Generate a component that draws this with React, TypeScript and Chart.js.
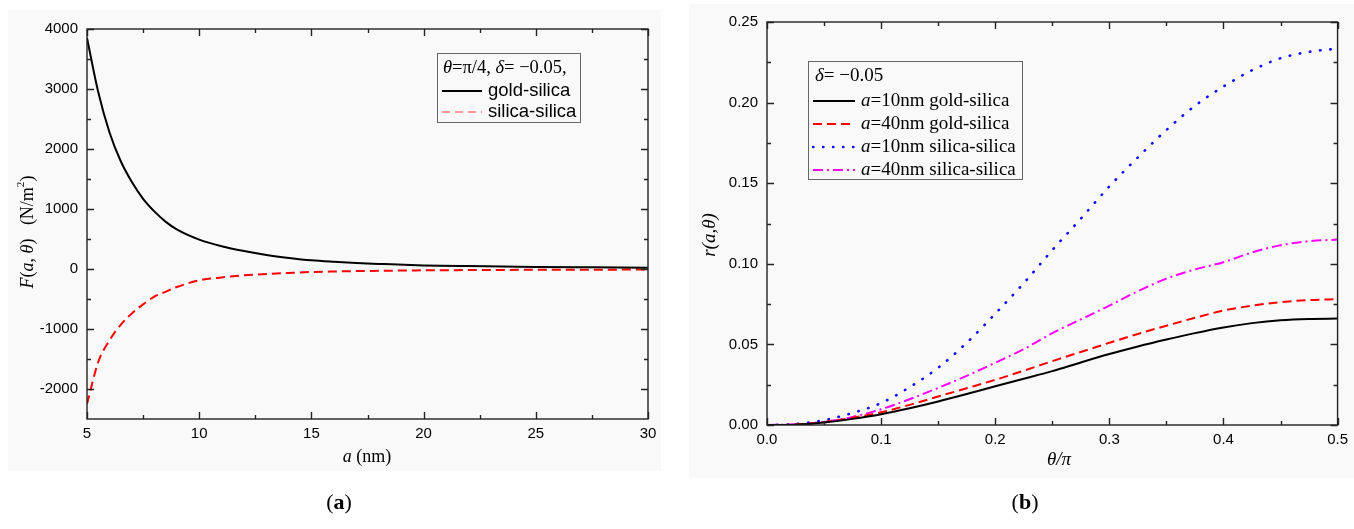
import React, { useEffect, useRef } from 'react';
import { Chart, registerables } from 'chart.js';

Chart.register(...registerables);

// ---------- Data: panel (a) ----------
const aNm = [5, 5.5, 6, 6.5, 7, 7.5, 8, 8.5, 9, 10, 11, 12, 13, 14, 15, 16, 17, 18, 20, 22, 25, 27.5, 30];
const goldSilicaF = [3850, 2950, 2280, 1800, 1450, 1170, 960, 790, 660, 490, 380, 300, 235, 185, 145, 120, 100, 85, 60, 48, 35, 28, 22];
const silicaSilicaF = [-2250, -1550, -1190, -930, -740, -590, -460, -380, -300, -190, -140, -105, -82, -65, -50, -42, -35, -30, -22, -18, -13, -11, -10];
const leftXTicks = [5, 10, 15, 20, 25, 30];
const leftXMinor = [7.5, 12.5, 17.5, 22.5, 27.5];
const leftYTicks = [-2000, -1000, 0, 1000, 2000, 3000, 4000];
const leftYMinor = [-1500, -500, 500, 1500, 2500, 3500];

// ---------- Data: panel (b) ----------
const thetaOverPi = [0, 0.025, 0.05, 0.075, 0.1, 0.125, 0.15, 0.175, 0.2, 0.225, 0.25, 0.275, 0.3, 0.325, 0.35, 0.375, 0.4, 0.425, 0.45, 0.475, 0.5];
const r10Gold = [0, 0.0002, 0.0015, 0.0038, 0.0067, 0.0104, 0.0146, 0.0192, 0.024, 0.0287, 0.0334, 0.0388, 0.044, 0.0487, 0.053, 0.057, 0.0605, 0.0632, 0.065, 0.0658, 0.066];
const r40Gold = [0, 0.0003, 0.0018, 0.0045, 0.0079, 0.0125, 0.0177, 0.0228, 0.028, 0.0337, 0.0396, 0.0453, 0.051, 0.0565, 0.0616, 0.0665, 0.071, 0.074, 0.0762, 0.0775, 0.078];
const r10Silica = [0, 0.0006, 0.003, 0.0075, 0.0136, 0.0235, 0.0355, 0.051, 0.069, 0.088, 0.1085, 0.128, 0.148, 0.166, 0.183, 0.198, 0.21, 0.22, 0.2275, 0.2315, 0.2335];
const r40Silica = [0, 0.0004, 0.002, 0.005, 0.0098, 0.016, 0.023, 0.0305, 0.0386, 0.047, 0.057, 0.0655, 0.074, 0.083, 0.0908, 0.0965, 0.101, 0.107, 0.1115, 0.114, 0.115];
const rightXTicks = [0, 0.1, 0.2, 0.3, 0.4, 0.5];
const rightXMinor = [0.05, 0.15, 0.25, 0.35, 0.45];
const rightYTicks = [0, 0.05, 0.1, 0.15, 0.2, 0.25];
const rightYMinor = [0.025, 0.075, 0.125, 0.175, 0.225];

// ---------- Rich text helpers ----------
type Seg = { t: string; it?: boolean; sans?: boolean; sup?: boolean };
const SERIF = '"Liberation Serif", "Times New Roman", serif';
const SANS = '"Liberation Sans", Arial, sans-serif';

function fontOf(size: number, s: Seg) {
  const sz = s.sup ? size * 0.62 : size;
  return `${s.it ? 'italic ' : ''}${sz}px ${s.sans ? SANS : SERIF}`;
}
function measureSegs(ctx: CanvasRenderingContext2D, segs: Seg[], size: number) {
  let w = 0;
  for (const s of segs) {
    ctx.font = fontOf(size, s);
    w += ctx.measureText(s.t).width;
  }
  return w;
}
function drawSegs(ctx: CanvasRenderingContext2D, segs: Seg[], x: number, y: number, size: number, align: 'left' | 'center') {
  const w = measureSegs(ctx, segs, size);
  let cx = align === 'center' ? x - w / 2 : x;
  ctx.textBaseline = 'middle';
  ctx.textAlign = 'left';
  ctx.fillStyle = '#000';
  for (const s of segs) {
    ctx.font = fontOf(size, s);
    ctx.fillText(s.t, cx, s.sup ? y - size * 0.38 : y);
    cx += ctx.measureText(s.t).width;
  }
}

// ---------- Plugins ----------
const framePlugin = {
  id: 'frameTicks',
  afterDatasetsDraw(chart: any, _args: any, opts: any) {
    const { ctx, chartArea: ca, scales } = chart;
    const xs = scales.x, ys = scales.y;
    ctx.save();
    ctx.strokeStyle = '#222';
    ctx.lineWidth = 1.4;
    ctx.strokeRect(ca.left, ca.top, ca.right - ca.left, ca.bottom - ca.top);
    const major = 7, minor = 4;
    const drawX = (vals: number[], len: number) => {
      for (const v of vals) {
        const px = Math.round(xs.getPixelForValue(v)) + 0.5;
        ctx.beginPath();
        ctx.moveTo(px, ca.bottom); ctx.lineTo(px, ca.bottom - len);
        ctx.moveTo(px, ca.top); ctx.lineTo(px, ca.top + len);
        ctx.stroke();
      }
    };
    const drawY = (vals: number[], len: number) => {
      for (const v of vals) {
        const py = Math.round(ys.getPixelForValue(v)) + 0.5;
        ctx.beginPath();
        ctx.moveTo(ca.left, py); ctx.lineTo(ca.left + len, py);
        ctx.moveTo(ca.right, py); ctx.lineTo(ca.right - len, py);
        ctx.stroke();
      }
    };
    drawX(opts.xMajor, major); drawX(opts.xMinor, minor);
    drawY(opts.yMajor, major); drawY(opts.yMinor, minor);
    ctx.restore();
  },
};

const titlesPlugin = {
  id: 'richTitles',
  afterDraw(chart: any, _args: any, opts: any) {
    const ctx = chart.ctx;
    ctx.save();
    for (const t of opts.items || []) {
      ctx.save();
      ctx.translate(t.x, t.y);
      if (t.rotate) ctx.rotate(-Math.PI / 2);
      drawSegs(ctx, t.segs, 0, 0, t.size, 'center');
      ctx.restore();
    }
    ctx.restore();
  },
};

const legendPlugin = {
  id: 'richLegend',
  afterDraw(chart: any, _args: any, opts: any) {
    const ctx = chart.ctx;
    const b = opts.box;
    ctx.save();
    ctx.strokeStyle = '#666';
    ctx.lineWidth = 1;
    ctx.strokeRect(b.left + 0.5, b.top + 0.5, b.right - b.left, b.bottom - b.top);
    drawSegs(ctx, opts.title.segs, opts.title.x, opts.title.y, opts.title.size, 'left');
    for (const e of opts.entries) {
      ctx.save();
      ctx.strokeStyle = e.color;
      ctx.lineWidth = e.width;
      ctx.lineCap = e.cap || 'butt';
      ctx.setLineDash(e.dash || []);
      ctx.beginPath();
      ctx.moveTo(opts.lineX0, e.y);
      ctx.lineTo(opts.lineX1, e.y);
      ctx.stroke();
      ctx.restore();
      drawSegs(ctx, e.segs, opts.textX, e.y, opts.size, 'left');
    }
    ctx.restore();
  },
};

const tickFont = { family: 'Liberation Sans, Arial, sans-serif', size: 15 };

function makeLeftConfig(): any {
  return {
    type: 'line',
    data: {
      datasets: [
        {
          label: 'gold-silica',
          data: aNm.map((a, i) => ({ x: a, y: goldSilicaF[i] })),
          borderColor: '#000',
          borderWidth: 2,
          pointRadius: 0,
          cubicInterpolationMode: 'monotone',
        },
        {
          label: 'silica-silica',
          data: aNm.map((a, i) => ({ x: a, y: silicaSilicaF[i] })),
          borderColor: '#f00',
          borderWidth: 2,
          borderDash: [9, 5],
          pointRadius: 0,
          cubicInterpolationMode: 'monotone',
        },
      ],
    },
    options: {
      responsive: false,
      animation: false,
      layout: { padding: { left: 0, right: 29, top: 29, bottom: 0 } },
      scales: {
        x: {
          type: 'linear',
          min: 5,
          max: 30,
          grid: { display: false, drawTicks: false },
          border: { display: false },
          afterFit: (s: any) => { s.height = 110; },
          afterBuildTicks: (s: any) => { s.ticks = leftXTicks.map((v) => ({ value: v })); },
          ticks: { font: tickFont, color: '#000', padding: 6, maxRotation: 0, autoSkip: false, callback: (v: any) => String(v) },
        },
        y: {
          type: 'linear',
          min: -2500,
          max: 4000,
          grid: { display: false, drawTicks: false },
          border: { display: false },
          afterFit: (s: any) => { s.width = 87; },
          afterBuildTicks: (s: any) => { s.ticks = leftYTicks.map((v) => ({ value: v })); },
          ticks: { font: tickFont, color: '#000', padding: 9, autoSkip: false, callback: (v: any) => String(v) },
        },
      },
      plugins: {
        legend: { display: false },
        tooltip: { enabled: false },
        frameTicks: { xMajor: leftXTicks, xMinor: leftXMinor, yMajor: leftYTicks, yMinor: leftYMinor },
        richTitles: {
          items: [
            { x: 367, y: 457, size: 18, segs: [{ t: 'a', it: true }, { t: ' (nm)' }] },
            {
              x: 28, y: 232, size: 18, rotate: true,
              segs: [{ t: 'F', it: true }, { t: '(' }, { t: 'a', it: true }, { t: ', ' }, { t: 'θ', it: true }, { t: ')   (N/m' }, { t: '2', sup: true }, { t: ')' }],
            },
          ],
        },
        richLegend: {
          box: { left: 437, top: 53, right: 580, bottom: 122 },
          title: { x: 443, y: 68, size: 18.5, segs: [{ t: 'θ', it: true }, { t: '=π/4, ' }, { t: 'δ', it: true }, { t: '= −0.05,' }] },
          lineX0: 442, lineX1: 482, textX: 488, size: 18.5,
          entries: [
            { y: 91, color: '#000', width: 2, segs: [{ t: 'gold-silica', sans: true }] },
            { y: 112, color: '#ff9a9a', width: 2, dash: [8, 5], segs: [{ t: 'silica-silica', sans: true }] },
          ],
        },
      },
    },
    plugins: [framePlugin, titlesPlugin, legendPlugin],
  };
}

function makeRightConfig(): any {
  const ds = (label: string, vals: number[], color: string, dash: number[], width: number, cap?: string) => ({
    label,
    data: thetaOverPi.map((t, i) => ({ x: t, y: vals[i] })),
    borderColor: color,
    borderWidth: width,
    borderDash: dash,
    borderCapStyle: cap || 'butt',
    pointRadius: 0,
    cubicInterpolationMode: 'monotone',
  });
  return {
    type: 'line',
    data: {
      datasets: [
        ds('a=10nm gold-silica', r10Gold, '#000', [], 2),
        ds('a=40nm gold-silica', r40Gold, '#f00', [9, 5], 2),
        ds('a=10nm silica-silica', r10Silica, '#1010ff', [0.5, 9.8], 2.6, 'round'),
        ds('a=40nm silica-silica', r40Silica, '#ff00ff', [10, 4, 2, 4], 2),
      ],
    },
    options: {
      responsive: false,
      animation: false,
      layout: { padding: { left: 0, right: 10, top: 22, bottom: 0 } },
      scales: {
        x: {
          type: 'linear',
          min: 0,
          max: 0.5,
          grid: { display: false, drawTicks: false },
          border: { display: false },
          afterFit: (s: any) => { s.height = 104; },
          afterBuildTicks: (s: any) => { s.ticks = rightXTicks.map((v) => ({ value: v })); },
          ticks: { font: tickFont, color: '#000', padding: 6, maxRotation: 0, autoSkip: false, callback: (v: any) => Number(v).toFixed(1) },
        },
        y: {
          type: 'linear',
          min: 0,
          max: 0.25,
          grid: { display: false, drawTicks: false },
          border: { display: false },
          afterFit: (s: any) => { s.width = 90; },
          afterBuildTicks: (s: any) => { s.ticks = rightYTicks.map((v) => ({ value: v })); },
          ticks: { font: tickFont, color: '#000', padding: 9, autoSkip: false, callback: (v: any) => Number(v).toFixed(2) },
        },
      },
      plugins: {
        legend: { display: false },
        tooltip: { enabled: false },
        frameTicks: { xMajor: rightXTicks, xMinor: rightXMinor, yMajor: rightYTicks, yMinor: rightYMinor },
        richTitles: {
          items: [
            { x: 382, y: 460, size: 19, segs: [{ t: 'θ/π', it: true }] },
            { x: 33, y: 235, size: 19, rotate: true, segs: [{ t: 'r(a,θ)', it: true }] },
          ],
        },
        richLegend: {
          box: { left: 131, top: 61, right: 345, bottom: 179 },
          title: { x: 138, y: 76, size: 19, segs: [{ t: 'δ', it: true }, { t: '= −0.05' }] },
          lineX0: 136, lineX1: 178, textX: 184, size: 19,
          entries: [
            { y: 101, color: '#000', width: 2, segs: [{ t: 'a', it: true }, { t: '=10nm gold-silica' }] },
            { y: 124, color: '#f00', width: 2, dash: [9, 5], segs: [{ t: 'a', it: true }, { t: '=40nm gold-silica' }] },
            { y: 147, color: '#1010ff', width: 2.4, dash: [0.5, 9.5], cap: 'round', segs: [{ t: 'a', it: true }, { t: '=10nm silica-silica' }] },
            { y: 170, color: '#ff00ff', width: 2, dash: [10, 4, 2, 4], segs: [{ t: 'a', it: true }, { t: '=40nm silica-silica' }] },
          ],
        },
      },
    },
    plugins: [framePlugin, titlesPlugin, legendPlugin],
  };
}

function ChartCanvas({ makeConfig, left }: { makeConfig: () => any; left: number }) {
  const ref = useRef<HTMLCanvasElement | null>(null);
  useEffect(() => {
    if (!ref.current) return;
    const chart = new Chart(ref.current, makeConfig());
    return () => chart.destroy();
  }, [makeConfig]);
  return (
    <canvas
      ref={ref}
      width={677}
      height={529}
      style={{ position: 'absolute', left, top: 0, width: 677, height: 529, display: 'block' }}
    />
  );
}

export default function App() {
  const caption: React.CSSProperties = {
    position: 'absolute',
    top: 489,
    width: 60,
    textAlign: 'center',
    fontFamily: SERIF,
    fontSize: 22,
    lineHeight: '26px',
    color: '#000',
  };
  return (
    <div style={{ position: 'absolute', left: 0, top: 0, width: 1354, height: 529, background: '#fff', overflow: 'hidden' }}>
      <div style={{ position: 'absolute', left: 8, top: 10, width: 653, height: 461, background: '#f9f9f9' }} />
      <div style={{ position: 'absolute', left: 689, top: 4, width: 665, height: 474, background: '#f9f9f9' }} />
      <ChartCanvas makeConfig={makeLeftConfig} left={0} />
      <ChartCanvas makeConfig={makeRightConfig} left={677} />
      <div style={{ ...caption, left: 339 - 30 }}>(<b>a</b>)</div>
      <div style={{ ...caption, left: 1025 - 30 }}>(<b>b</b>)</div>
    </div>
  );
}
